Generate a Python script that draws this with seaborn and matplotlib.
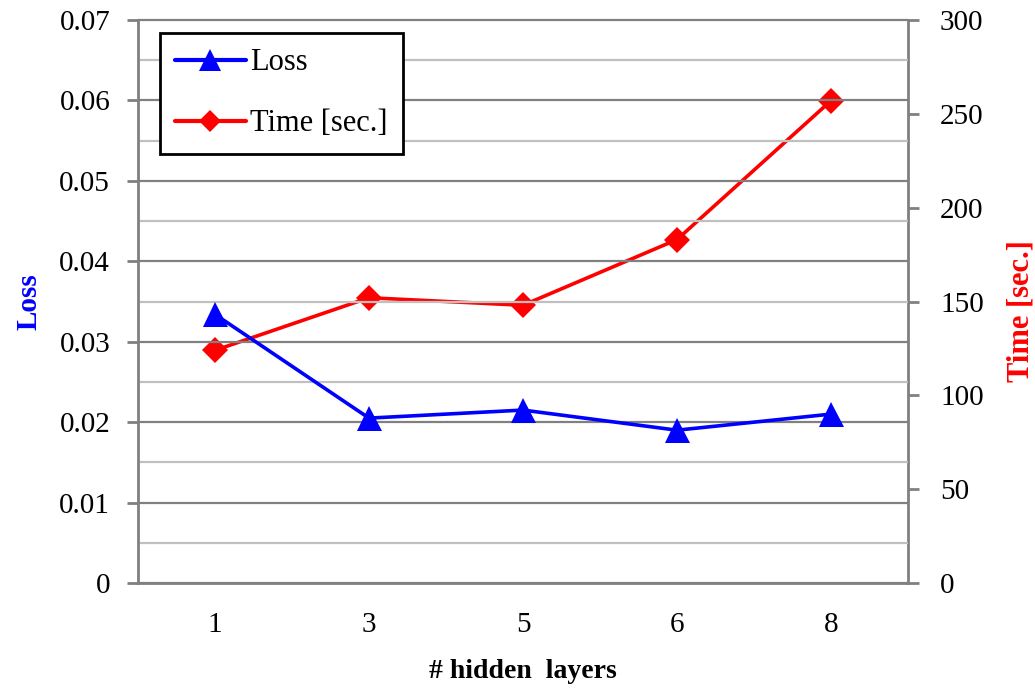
import matplotlib
matplotlib.use("Agg")
import matplotlib.pyplot as plt
import seaborn as sns
import pandas as pd
from matplotlib.ticker import MultipleLocator, FixedLocator
from matplotlib.lines import Line2D

layers = ["1", "3", "5", "6", "8"]
loss = [0.0334, 0.0205, 0.0215, 0.0190, 0.0210]
time_sec = [124, 152, 148, 183, 257]

sns.set_theme(style="white")
plt.rcParams['font.family'] = ['Liberation Serif', 'DejaVu Serif']
plt.rcParams['text.color'] = 'black'
plt.rcParams['axes.labelcolor'] = 'black'

df = pd.DataFrame({"layers": layers, "loss": loss, "time": time_sec})

fig = plt.figure(figsize=(10.35, 6.89), dpi=100)
ax = fig.add_axes([138/1035, 1-583/689, (908-138)/1035, (583-20)/689])
ax2 = ax.twinx()

grey = "#808080"
ax.set_axisbelow(True)
ax.set_ylim(0, 0.07)
ax.yaxis.set_major_locator(MultipleLocator(0.01))
ax.yaxis.set_minor_locator(MultipleLocator(0.005))
ax.grid(which="major", axis="y", color=grey, lw=1.6)
ax.grid(which="minor", axis="y", color="#c0c0c0", lw=1.6)
ax.grid(which="major", axis="x", visible=False)

sns.lineplot(data=df, x="layers", y="time", ax=ax2, color="#ff0000", lw=2.6,
             marker="D", markersize=13, markeredgewidth=0, sort=False)
sns.lineplot(data=df, x="layers", y="loss", ax=ax, color="#0000ff", lw=2.6,
             marker="^", markersize=18, markeredgewidth=0, sort=False)

ax.set_zorder(ax2.get_zorder() + 1)
ax.patch.set_visible(False)

ax.set_xlim(-0.5, 4.5)
ax2.set_ylim(0, 300)
ax2.yaxis.set_major_locator(MultipleLocator(50))

ax.set_yticklabels(["0" if v == 0 else f"{v:.2f}" for v in ax.get_yticks()])

for a in (ax, ax2):
    for s in a.spines.values():
        s.set_visible(False)
ax.spines["left"].set_visible(True)
ax.spines["bottom"].set_visible(True)
ax2.spines["right"].set_visible(True)
for s in (ax.spines["left"], ax.spines["bottom"], ax2.spines["right"]):
    s.set_color(grey)
    s.set_linewidth(2)

ax.xaxis.set_minor_locator(FixedLocator([-0.5, 0.5, 1.5, 2.5, 3.5, 4.5]))
ax.tick_params(axis="x", which="major", length=0, pad=21, labelsize=21, labelcolor="black")
ax.tick_params(axis="x", which="minor", length=8, width=2, color=grey, direction="out")
ax.tick_params(axis="y", which="major", length=8, width=2, color=grey, labelsize=21,
               labelcolor="black", left=True, direction="out", pad=12)
ax.tick_params(axis="y", which="minor", length=0)
ax2.tick_params(axis="y", which="major", length=8, width=2, color=grey, labelsize=21,
                labelcolor="black", right=True, direction="out", pad=15)

for gl in ax.get_ygridlines():
    gl.set_clip_on(False)

ax.set_xlabel("# hidden  layers", fontsize=20, fontweight="bold", labelpad=15, color="black")
ax.set_ylabel("Loss", fontsize=21, fontweight="bold", color="#0000ff", labelpad=12)
ax2.set_ylabel("Time [sec.]", fontsize=22, fontweight="bold", color="#ff0000")
ax2.yaxis.set_label_coords(1.128, 0.483)

handles = [
    Line2D([], [], color="#0000ff", lw=3, marker="^", markersize=16, markeredgewidth=0),
    Line2D([], [], color="#ff0000", lw=3, marker="D", markersize=11, markeredgewidth=0),
]
leg = ax.legend(handles, ["Loss", "Time [sec.]"], loc="upper left",
                bbox_to_anchor=(22/770, 1-13/563), fontsize=22, frameon=True,
                fancybox=False, edgecolor="black", framealpha=1, borderpad=0.5,
                labelspacing=1.05, handlelength=2.3, handletextpad=0.15,
                borderaxespad=0)
leg.get_frame().set_linewidth(2)
for t in leg.get_texts():
    t.set_color("black")

fig.savefig("out.png", dpi=100)
